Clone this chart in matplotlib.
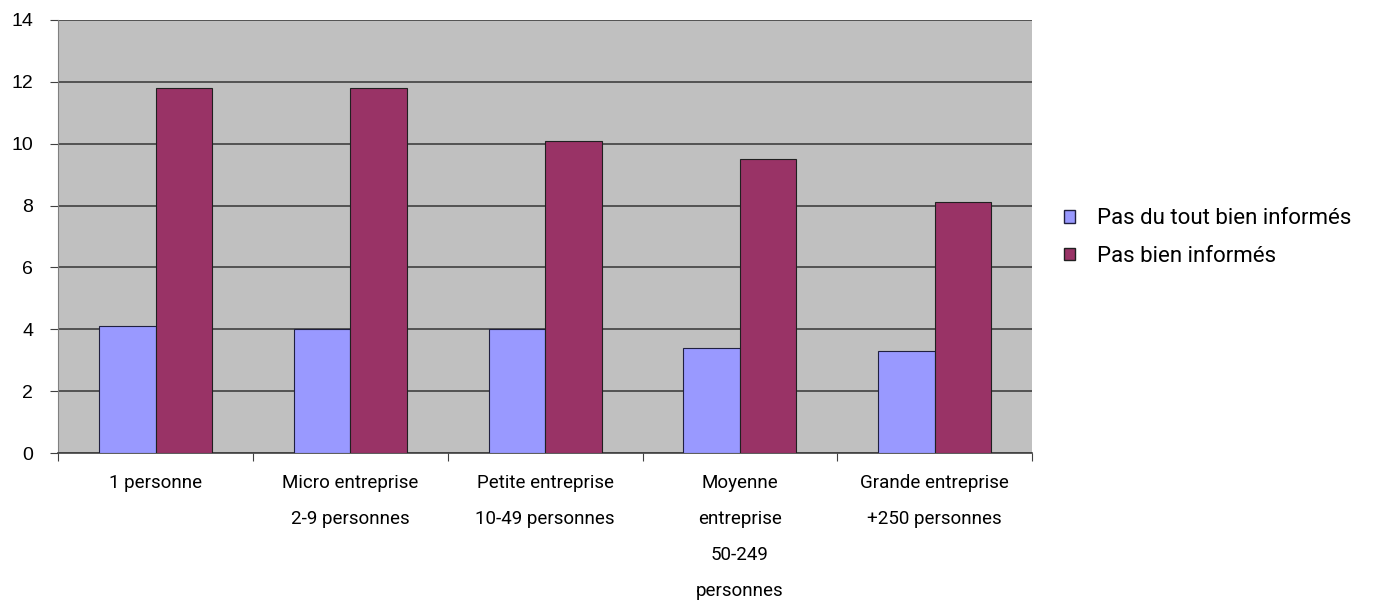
import numpy as np
import matplotlib.pyplot as plt
from matplotlib.patches import Patch

# Categories and values
categories = ['1 personne',
              'Micro entreprise\n2-9 personnes',
              'Petite entreprise\n10-49 personnes',
              'Moyenne\nentreprise\n50-249\npersonnes',
              'Grande entreprise\n+250 personnes']
pas_du_tout = [4.1, 4.0, 4.0, 3.4, 3.3]
pas_bien = [11.8, 11.8, 10.1, 9.5, 8.1]
series_names = ['Pas du tout bien informés', 'Pas bien informés']

blue = '#9999FF'
maroon = '#993366'

fig = plt.figure(figsize=(13.89, 6.04), dpi=100)
ax = fig.add_axes([0.042, 0.25, 0.701, 0.717])
ax.set_facecolor('#C0C0C0')

x = np.arange(len(categories))
w = 0.29
ax.bar(x - w / 2, pas_du_tout, w, color=blue, edgecolor='#202040', linewidth=0.8, zorder=3)
ax.bar(x + w / 2, pas_bien, w, color=maroon, edgecolor='#202020', linewidth=0.8, zorder=3)

ax.set_xlim(-0.5, len(categories) - 0.5)
ax.set_ylim(0, 14)
ax.set_yticks(range(0, 15, 2))
ax.yaxis.grid(True, color='#404040', linewidth=1.2, zorder=1)

# category labels between boundary tick marks
ax.set_xticks(np.arange(-0.5, len(categories)), minor=False)
ax.set_xticklabels([])
ax.set_xticks(x, minor=True)
ax.set_xticklabels(categories, minor=True, fontsize=13.5, family='Roboto',
                   linespacing=2.3, va='top')
ax.tick_params(axis='x', which='minor', length=0, pad=15)
ax.tick_params(axis='x', which='major', length=6, color='#404040')
ax.tick_params(axis='y', length=6, color='#404040', labelsize=14, pad=12)
for lab in ax.get_yticklabels():
    lab.set_family('Liberation Sans')

for s in ['top', 'right']:
    ax.spines[s].set_visible(False)
ax.spines['left'].set_color('#808080')
ax.spines['bottom'].set_color('#404040')
ax.spines['bottom'].set_linewidth(1.2)

handles = [Patch(facecolor=blue, edgecolor='#202040'),
           Patch(facecolor=maroon, edgecolor='#202020')]
fig.legend(handles, series_names, loc='upper left', bbox_to_anchor=(0.766, 0.655),
           frameon=False, handlelength=0.5, handleheight=0.5,
           handletextpad=1.0, labelspacing=0.75, borderpad=0, borderaxespad=0,
           prop={'family': 'Roboto', 'size': 16})

fig.savefig('out.png', dpi=100)
